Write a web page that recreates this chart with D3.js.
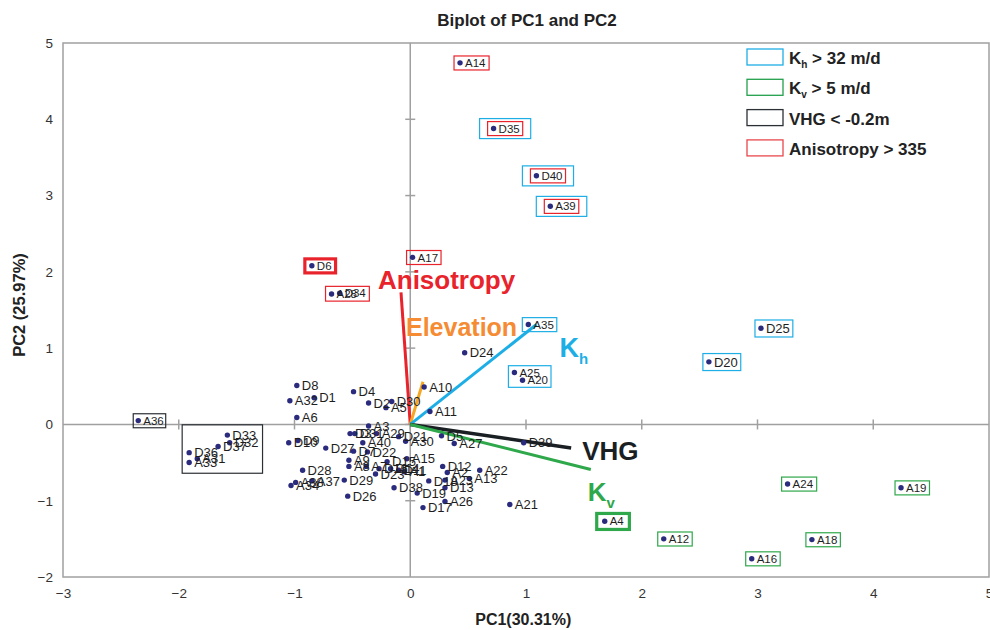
<!DOCTYPE html>
<html>
<head>
<meta charset="utf-8">
<script src="https://cdn.jsdelivr.net/npm/d3@7"></script>
<style>
  body { margin: 0; background: #fff; }
  svg { font-family: "Liberation Sans", Arial, sans-serif; }
</style>
</head>
<body>
<div id="biplot"></div>
<script>
// scores
var names = ["A14","D35","D40","A39","A17","D6","A28","D34","A35","D25","D24","D20","A25","A20",
  "D8","A10","D4","D1","A32","D30","D2","A5","A11","A6","A36","A3","D3","D31","A29","D21","A30",
  "D33","D5","D10","D9","D37","D32","A40","A27","D39","D27","D7","D22","D36","A15","A31","A9",
  "A33","D15","D12","A8","A7","D16","D14","D11","A22","D28","A1","A2","D23","A13","D18","A23",
  "A37","D29","A38","A24","A34","A19","D38","D13","D19","D26","A26","A21","D17","A4","A12","A18","A16"];
var pc1 = [0.43,0.72,1.09,1.21,0.02,-0.85,-0.68,-0.61,1.02,3.03,0.47,2.58,0.90,0.97,
  -0.98,0.12,-0.49,-0.83,-1.04,-0.16,-0.36,-0.21,0.17,-0.98,-2.35,-0.36,-0.52,-0.48,-0.29,-0.10,-0.04,
  -1.58,0.27,-1.05,-0.97,-1.66,-1.56,-0.41,0.38,0.98,-0.73,-0.49,-0.37,-1.91,-0.03,-1.84,-0.53,
  -1.91,-0.20,0.28,-0.53,-0.38,-0.27,-0.17,-0.10,0.60,-0.93,-0.05,0.32,-0.30,0.51,0.16,0.30,
  -0.85,-0.57,-0.99,3.26,-1.03,4.24,-0.14,0.30,0.06,-0.54,0.30,0.86,0.11,1.68,2.19,3.47,2.95];
var pc2 = [4.74,3.88,3.26,2.86,2.19,2.08,1.71,1.72,1.31,1.26,0.94,0.82,0.68,0.58,
  0.51,0.49,0.43,0.35,0.31,0.30,0.28,0.22,0.17,0.09,0.05,-0.02,-0.12,-0.12,-0.12,-0.16,-0.22,
  -0.14,-0.15,-0.24,-0.21,-0.29,-0.24,-0.24,-0.25,-0.24,-0.31,-0.35,-0.36,-0.37,-0.45,-0.45,-0.47,
  -0.50,-0.49,-0.55,-0.55,-0.55,-0.58,-0.58,-0.60,-0.60,-0.60,-0.62,-0.63,-0.65,-0.71,-0.74,-0.73,
  -0.74,-0.73,-0.76,-0.78,-0.80,-0.83,-0.83,-0.83,-0.90,-0.94,-1.01,-1.05,-1.09,-1.27,-1.50,-1.51,-1.76];

// loading vectors
var loadNames = ["Anisotropy","Elevation","Kh","VHG","Kv"];
var loadX = [-0.08, 0.11, 1.09, 1.39, 1.56];
var loadY = [1.73, 0.56, 1.31, -0.31, -0.59];

// highlighted groups
var khBoxes = [["D35"],["D40"],["A39"],["A35"],["A25","A20"],["D25"],["D20"]];
var kvBoxes = [["A4"],["A12"],["A16"],["A18"],["A24"],["A19"]];
var vhgBoxes = [["A36"],["D33","D37","D32","D36","A31","A33"]];
var anisoBoxes = [["A14"],["D35"],["D40"],["A39"],["A17"],["D6"],["A28","D34"]];
var thickBoxes = ["D6","A4"];
var smallLabels = ["A14","A17","A28","D34","A35","A25","A20","D35","D40","A39","A4","A12","A16","A18","A24","A19","A36","D6"];

var xTicks = [-3,-2,-1,0,1,2,3,4,5];
var yTicks = [-2,-1,0,1,2,3,4,5];

var legendMain = ["K","K","VHG < -0.2m","Anisotropy > 335"];
var legendSub = ["h","v","",""];
var legendTail = [" > 32 m/d"," > 5 m/d","",""];

var colKh = "#1eaee6", colKv = "#2ea84a", colVhg = "#1a1f24", colAniso = "#e8232b", colElev = "#f6a623";
var legendCols = [colKh, "#22a04b", "#2b3035", "#e8474c"];

var margin = { top: 43, right: 1, bottom: 53, left: 63 },
    width = 926,
    height = 534;

var svg = d3.select("#biplot")
    .append("svg")
    .attr("width", 990)
    .attr("height", 630);

var g = svg.append("g")
    .attr("transform", `translate(${margin.left} ${margin.top})`);

var x = d3.scaleLinear().domain([-3, 5]).range([0, width]);
var y = d3.scaleLinear().domain([-2, 5]).range([height, 0]);

// frame
g.append("rect")
    .attr("width", width).attr("height", height)
    .attr("fill", "none").attr("stroke", "#a0a0a0").attr("stroke-width", 1.5);

// zero lines with little crosses
g.append("line")
    .attr("x1", 0).attr("x2", width).attr("y1", y(0)).attr("y2", y(0))
    .attr("stroke", "#a0a0a0").attr("stroke-width", 1.5);
g.append("line")
    .attr("x1", x(0)).attr("x2", x(0)).attr("y1", 0).attr("y2", height)
    .attr("stroke", "#a0a0a0").attr("stroke-width", 1.5);

g.selectAll(".xcross").data(xTicks.slice(1, -1)).enter().append("line")
    .attr("x1", d => x(d)).attr("x2", d => x(d))
    .attr("y1", y(0) - 5).attr("y2", y(0) + 5)
    .attr("stroke", "#a0a0a0").attr("stroke-width", 1.5);
g.selectAll(".ycross").data(yTicks.slice(1, -1)).enter().append("line")
    .attr("x1", x(0) - 5).attr("x2", x(0) + 5)
    .attr("y1", d => y(d)).attr("y2", d => y(d))
    .attr("stroke", "#a0a0a0").attr("stroke-width", 1.5);

// tick labels
var xAxis = g.append("g")
    .attr("transform", `translate(0, ${height})`)
    .call(d3.axisBottom(x).tickValues(xTicks).tickFormat(d3.format("d")).tickSize(0).tickPadding(11));
var yAxis = g.append("g")
    .call(d3.axisLeft(y).tickValues(yTicks).tickFormat(d3.format("d")).tickSize(0).tickPadding(10));
[xAxis, yAxis].forEach(a => {
    a.select(".domain").remove();
    a.selectAll("text").attr("font-size", 13.5).attr("fill", "#333")
        .attr("font-family", "'Liberation Sans', Arial, sans-serif");
});

// titles
svg.append("text")
    .attr("x", 527).attr("y", 26)
    .attr("text-anchor", "middle").attr("font-weight", "bold").attr("font-size", 17)
    .attr("fill", "#222").text("Biplot of PC1 and PC2");
svg.append("text")
    .attr("x", margin.left + x(0) + 113).attr("y", 625)
    .attr("text-anchor", "middle").attr("font-weight", "bold").attr("font-size", 16)
    .attr("fill", "#222").text("PC1(30.31%)");
svg.append("text")
    .attr("transform", "translate(25, 305) rotate(-90)")
    .attr("text-anchor", "middle").attr("font-weight", "bold").attr("font-size", 16.5)
    .attr("fill", "#222").text("PC2 (25.97%)");

// vectors
var vecCols = [colAniso, colElev, colKh, colVhg, colKv];
g.selectAll(".vec").data(loadNames).enter().append("line")
    .attr("x1", x(0)).attr("y1", y(0))
    .attr("x2", (d, i) => x(loadX[i])).attr("y2", (d, i) => y(loadY[i]))
    .attr("stroke", (d, i) => vecCols[i])
    .attr("stroke-width", (d, i) => i == 3 ? 3.5 : 3);

// points
var pts = g.append("g");
pts.selectAll("circle").data(names).enter().append("circle")
    .attr("cx", (d, i) => x(pc1[i]))
    .attr("cy", (d, i) => y(pc2[i]))
    .attr("r", 2.7)
    .attr("fill", "#2b2b7e");

var labelNodes = new Map();
pts.selectAll("text").data(names).enter().append("text")
    .attr("x", (d, i) => x(pc1[i]) + 5)
    .attr("y", (d, i) => y(pc2[i]))
    .attr("dy", "0.36em")
    .attr("font-size", d => smallLabels.indexOf(d) > -1 ? 11.5 : 13)
    .attr("fill", "#1e1e1e")
    .text(d => d)
    .each(function (d) { labelNodes.set(d, this); });

function boxAround(group, padX, padY) {
    var x0 = Infinity, y0 = Infinity, x1 = -Infinity, y1 = -Infinity;
    group.forEach(n => {
        var i = names.indexOf(n);
        var b = labelNodes.get(n).getBBox();
        x0 = Math.min(x0, x(pc1[i]) - 3, b.x);
        x1 = Math.max(x1, b.x + b.width);
        y0 = Math.min(y0, b.y + 1);
        y1 = Math.max(y1, b.y + b.height - 1);
    });
    return { x: x0 - padX, y: y0 - padY, w: x1 - x0 + 2 * padX, h: y1 - y0 + 2 * padY };
}

function drawBoxes(groups, color, padFn) {
    var boxes = g.append("g");
    groups.forEach(grp => {
        var p = padFn(grp);
        var b = boxAround(grp, p[0], p[1]);
        var thick = thickBoxes.indexOf(grp[0]) > -1;
        boxes.append("rect")
            .attr("x", b.x).attr("y", b.y).attr("width", b.w).attr("height", b.h)
            .attr("fill", "none").attr("stroke", color)
            .attr("stroke-width", thick ? 3.2 : 1.2);
    });
}

var anisoFlat = anisoBoxes.flat();
drawBoxes(anisoBoxes, colAniso, grp => grp[0] == "D6" ? [4, 2] : [3, 2]);
drawBoxes(khBoxes, colKh, grp => anisoFlat.indexOf(grp[0]) > -1 ? [11, 5] : [3, 2]);
drawBoxes(kvBoxes, colKv, grp => grp[0] == "A4" ? [5, 3] : [3, 2]);
drawBoxes(vhgBoxes, "#2b3035", grp => grp.length > 1 ? [4, 4] : [2, 2]);

// vector labels, placed relative to the arrow tips
var vecLabelOffset = { Anisotropy: [-23, -3], Elevation: [-17, -46], Kh: [23, 33], VHG: [11, 12], Kv: [-3, 32] };
var vecLabelSize = { Anisotropy: 26, Elevation: 25, Kh: 27, VHG: 26, Kv: 26 };
loadNames.forEach((n, i) => {
    var t = g.append("text")
        .attr("x", x(loadX[i]) + vecLabelOffset[n][0])
        .attr("y", y(loadY[i]) + vecLabelOffset[n][1])
        .attr("font-weight", "bold")
        .attr("font-size", vecLabelSize[n])
        .attr("fill", n == "Elevation" ? "#f58b32" : vecCols[i]);
    if (n == "Kh" || n == "Kv") {
        t.append("tspan").text("K");
        t.append("tspan").attr("font-size", 15).attr("dy", 7).text(n.slice(1));
    } else {
        t.text(n);
    }
});

// legend
var legend = svg.append("g")
    .selectAll("g")
    .data(legendMain)
    .enter().append("g")
    .attr("transform", (d, i) => `translate(747, ${49 + i * 30.3})`);

legend.append("rect")
    .attr("width", 36).attr("height", 16)
    .attr("fill", "#fff")
    .attr("stroke", (d, i) => legendCols[i])
    .attr("stroke-width", 1.3);

legend.append("text")
    .attr("x", 42).attr("y", 15)
    .attr("font-weight", "bold").attr("font-size", 17)
    .attr("fill", "#222")
    .each(function (d, i) {
        var t = d3.select(this);
        t.append("tspan").text(d);
        if (legendSub[i]) {
            t.append("tspan").attr("font-size", 10).attr("dy", 4).text(legendSub[i]);
            t.append("tspan").attr("dy", -4).text(legendTail[i]);
        }
    });
</script>
</body>
</html>
